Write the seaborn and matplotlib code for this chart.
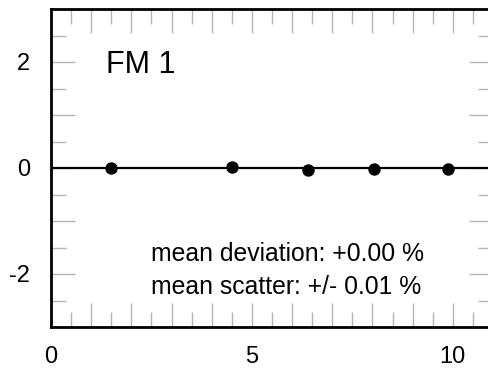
import numpy as np
import pandas as pd
import matplotlib
matplotlib.use('Agg')
import matplotlib.pyplot as plt
import seaborn as sns
from matplotlib.ticker import MultipleLocator, FuncFormatter

# values
x_vals = [1.49, 4.50, 6.39, 8.03, 9.88]
y_vals = [0.00, 0.02, -0.03, -0.01, -0.01]
panel_label = 'FM 1'
dev_text = 'mean deviation: +0.00 %'
scat_text = 'mean scatter: +/- 0.01 %'

df = pd.DataFrame({'x': x_vals, 'y': y_vals})

sns.set_style('ticks')
plt.rcParams['font.family'] = ['Liberation Sans', 'DejaVu Sans']
plt.rcParams['text.color'] = 'black'

fig = plt.figure(figsize=(4.88, 3.68), dpi=100)
ax = fig.add_axes([51 / 488, 41 / 368, 442 / 488, 318 / 368])

## reference line at zero
ax.axhline(0, color='black', lw=1.6, zorder=1)
sns.scatterplot(data=df, x='x', y='y', ax=ax, color='black', s=80,
                edgecolor='black', linewidth=0, zorder=3)

ax.set_xlim(0, 11)
ax.set_ylim(-3, 3)
ax.set_xlabel('')
ax.set_ylabel('')

ax.xaxis.set_major_locator(MultipleLocator(1))
ax.xaxis.set_minor_locator(MultipleLocator(0.5))
ax.yaxis.set_major_locator(MultipleLocator(1))
ax.yaxis.set_minor_locator(MultipleLocator(0.5))
## only label every 5th (x) / every 2nd (y) tick
ax.xaxis.set_major_formatter(FuncFormatter(lambda v, p: f'{v:.0f}' if round(v) % 5 == 0 else ''))
ax.yaxis.set_major_formatter(FuncFormatter(lambda v, p: f'{v:.0f}' if round(v) % 2 == 0 else ''))

ax.tick_params(which='both', direction='in', top=True, right=True,
               color='#b5b5b5', width=1, labelsize=17, labelcolor='black')
ax.tick_params(which='major', length=17)
ax.tick_params(which='minor', length=11)
ax.tick_params(axis='x', which='major', pad=14)
ax.tick_params(axis='y', which='major', pad=15)

for side in ['left', 'top', 'bottom', 'right']:
    ax.spines[side].set_linewidth(2)
    ax.spines[side].set_color('black')

ax.text(1.37, 1.8, panel_label, fontsize=22, ha='left', va='baseline')
ax.text(2.5, -1.75, dev_text, fontsize=17.8, ha='left', va='baseline')
ax.text(2.5, -2.38, scat_text, fontsize=17.8, ha='left', va='baseline')

fig.savefig('out.png', dpi=100)
